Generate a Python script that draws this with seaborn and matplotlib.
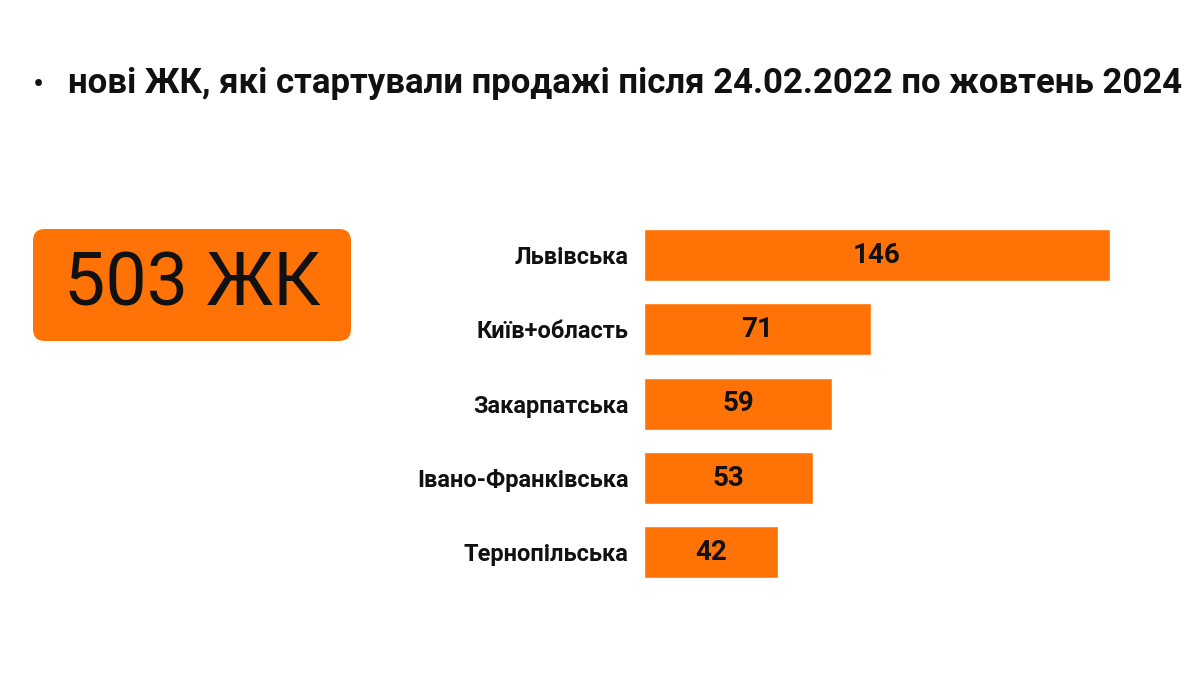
import matplotlib
matplotlib.use("Agg")
import matplotlib.pyplot as plt
from matplotlib.patches import FancyBboxPatch
import pandas as pd
import seaborn as sns

# Data
regions = ["Львівська", "Київ+область", "Закарпатська", "Івано-Франківська", "Тернопільська"]
counts = [146, 71, 59, 53, 42]
total_label = "503 ЖК"
title = "нові ЖК, які стартували продажі після 24.02.2022 по жовтень 2024"

orange = "#FF7306"

sns.set_theme(style="white")
plt.rcParams["font.family"] = ["Roboto", "DejaVu Sans"]

df = pd.DataFrame({"region": regions, "count": counts})

fig = plt.figure(figsize=(12, 6.75), dpi=100)
fig.patch.set_facecolor("white")

# bar chart
ax = fig.add_axes([644 / 1200, 1 - 589.5 / 675, 466 / 1200, 371.5 / 675])
sns.barplot(data=df, x="count", y="region", orient="h", color=orange,
            saturation=1, width=0.7, ax=ax)
ax.set_xlim(0, max(counts))
ax.set_ylim(len(regions) - 0.5, -0.5)
ax.set_xlabel("")
ax.set_ylabel("")
ax.set_xticks([])
ax.tick_params(axis="y", length=0, pad=11)
for lab in ax.get_yticklabels():
    lab.set_fontsize(17)
    lab.set_fontweight("bold")
    lab.set_color("#111111")
sns.despine(ax=ax, left=True, bottom=True)
ax.bar_label(ax.containers[0], label_type="center", fontsize=20,
             fontweight="bold", color="#111111")

# title line with bullet
fig.text(38 / 1200, 1 - 86 / 675, "•", fontsize=24, ha="center", va="center", color="#111111")
fig.text(68 / 1200, 1 - 84 / 675, title, fontsize=25, fontweight="bold",
         ha="left", va="center", color="#111111")

# big total box
bax = fig.add_axes([33 / 1200, 1 - 341 / 675, 318 / 1200, 112 / 675])
bax.set_axis_off()
bax.set_xlim(0, 1)
bax.set_ylim(0, 1)
box = FancyBboxPatch((0, 0), 1, 1, boxstyle="round,pad=0,rounding_size=%f" % (12 / 318),
                     mutation_aspect=318 / 112, facecolor=orange, edgecolor="none",
                     transform=bax.transAxes, clip_on=False)
bax.add_patch(box)
bax.text(0.5, 0.5, total_label, fontsize=53, ha="center", va="center", color="#111111",
         transform=bax.transAxes)

fig.savefig("out.png", dpi=100, facecolor="white")
